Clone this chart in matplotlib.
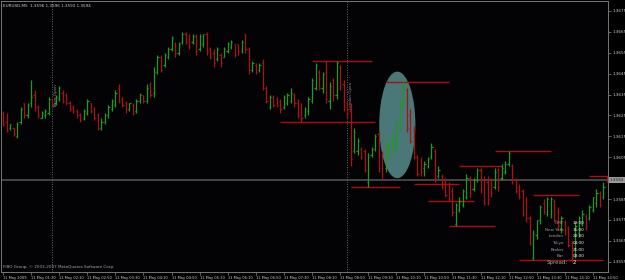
import matplotlib
matplotlib.use('Agg')
import matplotlib.pyplot as plt
from matplotlib.collections import LineCollection
from matplotlib.patches import Ellipse
import numpy as np

# EURUSD M5 bars (11 May 2009, 00:50 onwards)
opens = [1.3626, 1.3622, 1.3619, 1.3619, 1.3615, 1.3622, 1.3631, 1.3625, 1.3631, 1.3635,
         1.3629, 1.3624, 1.3625, 1.3626, 1.3633, 1.3631, 1.3633, 1.3636, 1.3635, 1.3631,
         1.3629, 1.3627, 1.3625, 1.3624, 1.3626, 1.3631, 1.3628, 1.3625, 1.3619, 1.3622,
         1.3625, 1.3628, 1.3630, 1.3638, 1.3633, 1.3631, 1.3628, 1.3630, 1.3627, 1.3632,
         1.3635, 1.3632, 1.3640, 1.3636, 1.3646, 1.3653, 1.3649, 1.3653, 1.3657, 1.3659,
         1.3655, 1.3660, 1.3664, 1.3663, 1.3660, 1.3663, 1.3657, 1.3659, 1.3664, 1.3657,
         1.3655, 1.3652, 1.3654, 1.3653, 1.3656, 1.3658, 1.3659, 1.3659, 1.3656, 1.3664,
         1.3657, 1.3647, 1.3649, 1.3647, 1.3650, 1.3638, 1.3629, 1.3634, 1.3633, 1.3632,
         1.3629, 1.3631, 1.3632, 1.3635, 1.3631, 1.3630, 1.3625, 1.3627, 1.3632, 1.3638,
         1.3646, 1.3638, 1.3646, 1.3632, 1.3642, 1.3635, 1.3648, 1.3640, 1.3631, 1.3627,
         1.3608, 1.3608, 1.3609, 1.3608, 1.3593, 1.3606, 1.3609, 1.3616, 1.3606, 1.3600,
         1.3608, 1.3608, 1.3610, 1.3619, 1.3630, 1.3637, 1.3625, 1.3618, 1.3605, 1.3603,
         1.3600, 1.3601, 1.3605, 1.3608, 1.3596, 1.3596, 1.3593, 1.3592, 1.3589, 1.3573,
         1.3580, 1.3582, 1.3586, 1.3595, 1.3590, 1.3594, 1.3599, 1.3594, 1.3593, 1.3594,
         1.3591, 1.3599, 1.3595, 1.3598, 1.3602, 1.3601, 1.3594, 1.3591, 1.3589, 1.3584,
         1.3576, 1.3557, 1.3568, 1.3575, 1.3583, 1.3578, 1.3578, 1.3584, 1.3579, 1.3571,
         1.3574, 1.3571, 1.3564, 1.3558, 1.3569, 1.3573, 1.3577, 1.3576, 1.3580, 1.3583,
         1.3588, 1.3586, 1.3596]
highs = [1.3627, 1.3626, 1.3621, 1.3619, 1.3622, 1.3629, 1.3631, 1.3631, 1.3642, 1.3637,
         1.3630, 1.3627, 1.3628, 1.3634, 1.3633, 1.3635, 1.3639, 1.3637, 1.3636, 1.3632,
         1.3630, 1.3628, 1.3626, 1.3628, 1.3633, 1.3631, 1.3629, 1.3626, 1.3624, 1.3626,
         1.3630, 1.3633, 1.3637, 1.3640, 1.3634, 1.3632, 1.3631, 1.3631, 1.3633, 1.3636,
         1.3635, 1.3640, 1.3641, 1.3648, 1.3654, 1.3654, 1.3655, 1.3658, 1.3663, 1.3660,
         1.3660, 1.3665, 1.3665, 1.3664, 1.3664, 1.3664, 1.3664, 1.3664, 1.3665, 1.3658,
         1.3657, 1.3658, 1.3655, 1.3658, 1.3660, 1.3661, 1.3659, 1.3659, 1.3661, 1.3664,
         1.3658, 1.3651, 1.3650, 1.3650, 1.3652, 1.3639, 1.3635, 1.3635, 1.3634, 1.3633,
         1.3635, 1.3636, 1.3638, 1.3636, 1.3633, 1.3631, 1.3629, 1.3634, 1.3643, 1.3650,
         1.3647, 1.3646, 1.3651, 1.3641, 1.3643, 1.3651, 1.3649, 1.3642, 1.3632, 1.3631,
         1.3619, 1.3614, 1.3610, 1.3609, 1.3607, 1.3610, 1.3616, 1.3617, 1.3608, 1.3612,
         1.3614, 1.3616, 1.3623, 1.3632, 1.3641, 1.3638, 1.3628, 1.3620, 1.3606, 1.3605,
         1.3603, 1.3605, 1.3612, 1.3609, 1.3601, 1.3597, 1.3595, 1.3593, 1.3591, 1.3583,
         1.3586, 1.3590, 1.3597, 1.3596, 1.3595, 1.3600, 1.3600, 1.3596, 1.3596, 1.3595,
         1.3600, 1.3600, 1.3602, 1.3603, 1.3608, 1.3602, 1.3595, 1.3592, 1.3590, 1.3586,
         1.3577, 1.3570, 1.3575, 1.3582, 1.3585, 1.3586, 1.3586, 1.3585, 1.3581, 1.3577,
         1.3575, 1.3572, 1.3565, 1.3574, 1.3577, 1.3580, 1.3578, 1.3582, 1.3586, 1.3590,
         1.3589, 1.3593, 1.3596]
lows = [1.3620, 1.3617, 1.3618, 1.3615, 1.3614, 1.3621, 1.3624, 1.3624, 1.3629, 1.3627,
        1.3624, 1.3624, 1.3624, 1.3625, 1.3629, 1.3630, 1.3632, 1.3631, 1.3630, 1.3627,
        1.3626, 1.3624, 1.3622, 1.3623, 1.3625, 1.3626, 1.3623, 1.3618, 1.3618, 1.3621,
        1.3624, 1.3627, 1.3629, 1.3631, 1.3629, 1.3626, 1.3627, 1.3625, 1.3626, 1.3631,
        1.3631, 1.3631, 1.3634, 1.3634, 1.3645, 1.3646, 1.3648, 1.3652, 1.3656, 1.3653,
        1.3654, 1.3659, 1.3659, 1.3657, 1.3659, 1.3654, 1.3656, 1.3658, 1.3654, 1.3652,
        1.3648, 1.3651, 1.3648, 1.3653, 1.3655, 1.3657, 1.3653, 1.3654, 1.3655, 1.3655,
        1.3645, 1.3646, 1.3645, 1.3646, 1.3637, 1.3631, 1.3628, 1.3629, 1.3629, 1.3626,
        1.3628, 1.3630, 1.3631, 1.3629, 1.3624, 1.3622, 1.3624, 1.3625, 1.3631, 1.3637,
        1.3637, 1.3636, 1.3631, 1.3628, 1.3632, 1.3633, 1.3637, 1.3627, 1.3624, 1.3601,
        1.3607, 1.3606, 1.3604, 1.3598, 1.3591, 1.3605, 1.3608, 1.3598, 1.3594, 1.3598,
        1.3606, 1.3608, 1.3608, 1.3618, 1.3629, 1.3617, 1.3612, 1.3604, 1.3596, 1.3596,
        1.3596, 1.3600, 1.3604, 1.3593, 1.3595, 1.3590, 1.3586, 1.3584, 1.3577, 1.3572,
        1.3579, 1.3581, 1.3585, 1.3586, 1.3589, 1.3593, 1.3588, 1.3582, 1.3582, 1.3586,
        1.3590, 1.3589, 1.3594, 1.3597, 1.3601, 1.3592, 1.3588, 1.3585, 1.3577, 1.3574,
        1.3563, 1.3556, 1.3566, 1.3573, 1.3578, 1.3577, 1.3576, 1.3574, 1.3570, 1.3569,
        1.3568, 1.3562, 1.3555, 1.3557, 1.3567, 1.3572, 1.3570, 1.3575, 1.3579, 1.3581,
        1.3581, 1.3585, 1.3593]
closes = [1.3621, 1.3618, 1.3621, 1.3616, 1.3621, 1.3628, 1.3625, 1.3630, 1.3634, 1.3629,
          1.3625, 1.3626, 1.3627, 1.3633, 1.3630, 1.3634, 1.3638, 1.3632, 1.3631, 1.3628,
          1.3627, 1.3625, 1.3623, 1.3627, 1.3632, 1.3627, 1.3624, 1.3619, 1.3622, 1.3625,
          1.3629, 1.3632, 1.3636, 1.3632, 1.3630, 1.3628, 1.3631, 1.3626, 1.3632, 1.3635,
          1.3632, 1.3638, 1.3635, 1.3646, 1.3653, 1.3647, 1.3654, 1.3657, 1.3662, 1.3655,
          1.3659, 1.3664, 1.3660, 1.3658, 1.3663, 1.3656, 1.3663, 1.3664, 1.3656, 1.3653,
          1.3650, 1.3657, 1.3650, 1.3657, 1.3659, 1.3660, 1.3654, 1.3656, 1.3660, 1.3657,
          1.3647, 1.3650, 1.3646, 1.3649, 1.3638, 1.3632, 1.3634, 1.3630, 1.3630, 1.3628,
          1.3634, 1.3635, 1.3636, 1.3631, 1.3625, 1.3624, 1.3628, 1.3633, 1.3642, 1.3649,
          1.3638, 1.3645, 1.3633, 1.3639, 1.3635, 1.3650, 1.3639, 1.3629, 1.3626, 1.3604,
          1.3617, 1.3613, 1.3605, 1.3599, 1.3605, 1.3609, 1.3615, 1.3600, 1.3597, 1.3611,
          1.3613, 1.3615, 1.3621, 1.3631, 1.3639, 1.3619, 1.3613, 1.3605, 1.3597, 1.3598,
          1.3602, 1.3604, 1.3610, 1.3595, 1.3599, 1.3591, 1.3587, 1.3585, 1.3579, 1.3582,
          1.3584, 1.3589, 1.3595, 1.3588, 1.3594, 1.3599, 1.3590, 1.3583, 1.3585, 1.3588,
          1.3598, 1.3591, 1.3600, 1.3602, 1.3607, 1.3594, 1.3589, 1.3586, 1.3578, 1.3576,
          1.3564, 1.3569, 1.3575, 1.3581, 1.3579, 1.3585, 1.3585, 1.3575, 1.3572, 1.3576,
          1.3570, 1.3563, 1.3557, 1.3572, 1.3576, 1.3578, 1.3572, 1.3581, 1.3586, 1.3588,
          1.3582, 1.3591, 1.3594]

# time axis labels, one every 8 bars (40 min)
time_labels = ['11 May 2009', '11 May 01:30', '11 May 02:10', '11 May 02:50', '11 May 03:30',
               '11 May 04:10', '11 May 04:50', '11 May 05:30', '11 May 06:10', '11 May 06:50',
               '11 May 07:30', '11 May 08:10', '11 May 08:50', '11 May 09:30', '11 May 10:10',
               '11 May 10:50', '11 May 11:30', '11 May 12:10', '11 May 12:50', '11 May 13:30',
               '11 May 14:10', '11 May 14:50']
price_ticks = [1.3675, 1.3665, 1.3655, 1.3645, 1.3635, 1.3625, 1.3615, 1.3605,
               1.3585, 1.3575, 1.3565, 1.3555]
last_price = 1.3594

# session high / low lines: price, first bar, last bar
level_prices = [1.3651, 1.3622, 1.3591, 1.3641, 1.3592, 1.3584, 1.3572,
                1.3601, 1.3608, 1.3587, 1.3556, 1.3596]
level_from = [88, 79, 99, 109, 117, 121, 127, 130, 140, 151, 147, 167]
level_to = [105, 106, 113, 127, 130, 134, 140, 142, 156, 164, 171, 173]

# session opens (bar index) and their labels
session_bars = [14, 98]
session_names = ['Tokyo Open', 'London Open']

# clock panel
clock_names = ['GMT', 'New York', 'London', 'Tokyo', 'Broker', 'Bar']
clock_times = ['19:00', '15:00', '20:00', '04:00', '21:00', '03:00']
spread = 2

# highlighted area (bar, price, width in bars, height in price)
mark_bar, mark_price, mark_w, mark_h = 112.3, 1.36205, 10.3, 0.0051

fig = plt.figure(figsize=(6.25, 2.8), dpi=100, facecolor='#000000')
ax = fig.add_axes([1 / 625, 8 / 280, 607 / 625, 271 / 280], facecolor='#030306')

o = np.array(opens)
h = np.array(highs)
l = np.array(lows)
c = np.array(closes)
x = np.arange(len(o))
up = c > o

segs = []
cols = []
for i in range(len(x)):
    col = '#229a22' if up[i] else '#a81414'
    segs += [[(x[i], l[i]), (x[i], h[i])],
             [(x[i] - 0.35, o[i]), (x[i], o[i])],
             [(x[i], c[i]), (x[i] + 0.35, c[i])]]
    cols += [col] * 3

ax.add_patch(Ellipse((mark_bar, mark_price), mark_w, mark_h,
                     facecolor='#4a7777', edgecolor='none', zorder=1))
ax.add_collection(LineCollection(segs, colors=cols, linewidths=0.9, zorder=3))

# red range lines
for p, a, b in zip(level_prices, level_from, level_to):
    ax.hlines(p, a, b, color='#a81010', lw=1.0, zorder=2)

# bid line
ax.axhline(last_price, color='#4a4a4a', lw=1.3, zorder=0.5)

# session dotted lines
for b, name in zip(session_bars, session_names):
    ax.axvline(b, color='#6a6a6a', lw=0.7, ls=(0, (1, 1.5)), zorder=0.5)
    ax.text(b + 0.6, 1.36345, name, rotation=90, color='#909090', fontsize=3.0,
            ha='left', va='center')

ax.set_xlim(-0.57, 172.3)
ax.set_ylim(1.355012, 1.367978)

ax.yaxis.tick_right()
ax.set_yticks(price_ticks)
ax.set_yticklabels(['%.4f' % p for p in price_ticks])
ax.set_xticks(np.arange(0, 8 * len(time_labels), 8))
ax.set_xticklabels(time_labels, ha='left')
ax.tick_params(colors='#8a8a8a', labelcolor='#cccccc', labelsize=3.0,
               length=2, width=0.5, pad=1)
ax.tick_params(axis='x', labelsize=2.65)
for s in ax.spines.values():
    s.set_color('#777777')
    s.set_linewidth(0.7)

# current price tag on the price scale
ax.text(1.003, last_price, '%.4f' % last_price, transform=ax.get_yaxis_transform(),
        fontsize=3.0, color='#222222', va='center', ha='left',
        bbox=dict(boxstyle='square,pad=0.25', fc='#9a9a9a', ec='none'))

ax.text(0.004, 0.988, 'EURUSD,M5  1.3596 1.3596 1.3593 1.3594', transform=ax.transAxes,
        color='#cccccc', fontsize=3.0, va='top', ha='left')
ax.text(0.003, 0.012, 'FIBO Group, \u00a9 2003-2007 MetaQuotes Software Corp.',
        transform=ax.transAxes, color='#a8a8a8', fontsize=3.0, va='bottom', ha='left')

# clock panel in the lower right
rows = [0.181, 0.155, 0.131, 0.107, 0.083, 0.059]
for yy, name, t in zip(rows, clock_names, clock_times):
    ax.text(0.927, yy, name, transform=ax.transAxes, color='#a0a0a0', fontsize=3.0,
            ha='right', va='center', zorder=5)
    ax.text(0.942, yy, t, transform=ax.transAxes, color='#f4f4f4', fontsize=3.0,
            ha='left', va='center', zorder=5)
ax.text(0.934, 0.036, 'Spread:', transform=ax.transAxes, color='#a0a0a0', fontsize=4.0,
        ha='right', va='center', zorder=5)
ax.text(0.942, 0.036, str(spread), transform=ax.transAxes, color='#f4f4f4', fontsize=4.0,
        ha='left', va='center', zorder=5)

plt.savefig('out.png', dpi=100, facecolor=fig.get_facecolor())
